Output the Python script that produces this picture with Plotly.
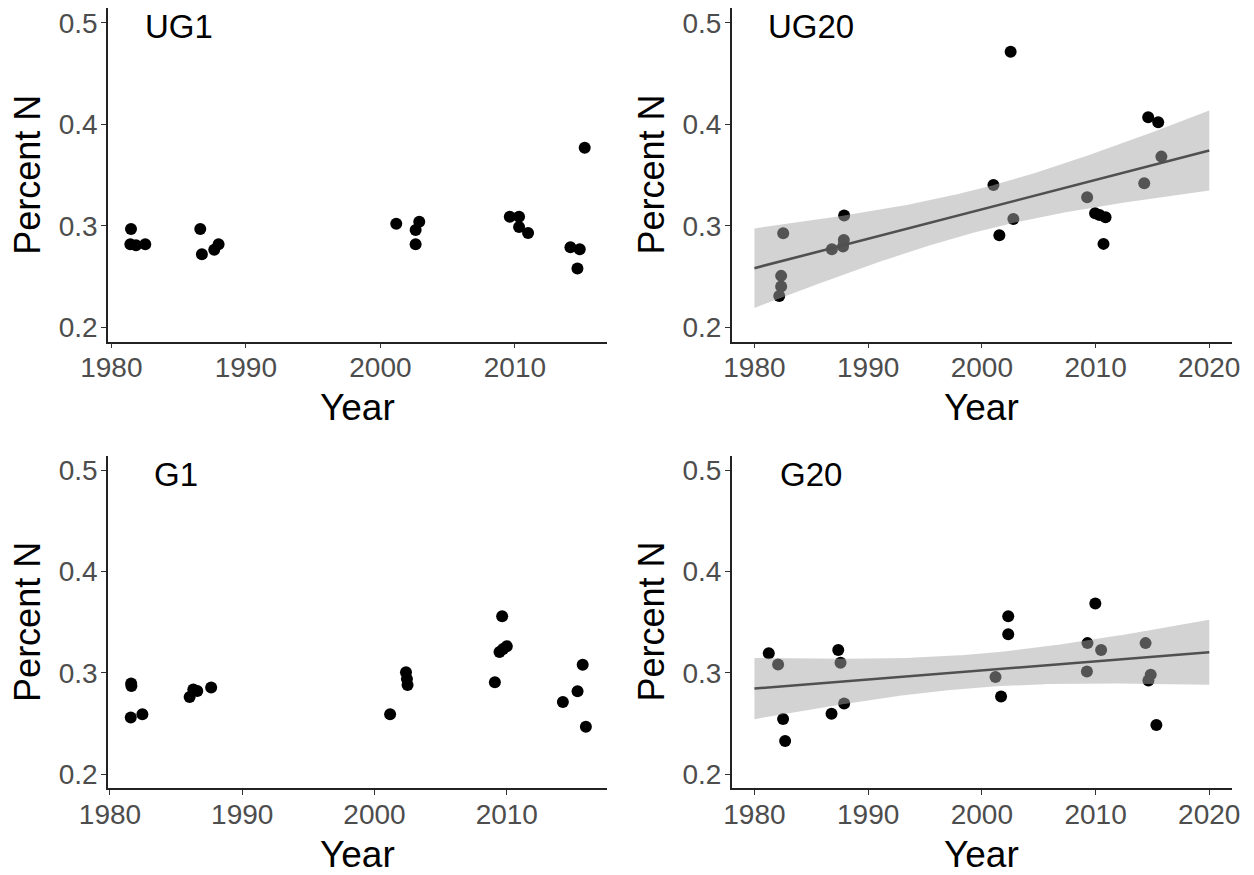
import numpy as np
import plotly.graph_objects as go

# ---------------- data ----------------
ug1_year = [1981.46, 1981.41, 1981.83, 1982.52, 1986.61, 1986.73, 1987.65, 1987.97,
            2001.18, 2002.62, 2002.89, 2002.62, 2009.62, 2010.31, 2010.31, 2010.98,
            2014.13, 2014.82, 2014.65, 2015.19]
ug1_n = [0.297, 0.282, 0.281, 0.282, 0.297, 0.272, 0.2765, 0.282,
         0.302, 0.296, 0.304, 0.282, 0.309, 0.309, 0.299, 0.293,
         0.279, 0.277, 0.258, 0.377]

ug20_year = [1982.53, 1982.35, 1982.35, 1982.18, 1986.81, 1987.79, 1987.86, 1987.89,
             2001.02, 2001.54, 2002.53, 2002.77, 2009.26, 2009.96, 2010.35, 2010.88,
             2010.70, 2014.28, 2014.63, 2015.51, 2015.79]
ug20_n = [0.2928, 0.2508, 0.2403, 0.2311, 0.2770, 0.2797, 0.2862, 0.3102,
          0.3403, 0.2908, 0.4715, 0.3069, 0.3282, 0.3125, 0.3108, 0.3085,
          0.2823, 0.3420, 0.4069, 0.4020, 0.3682]

g1_year = [1981.60, 1981.62, 1981.57, 1982.45, 1986.02, 1986.30, 1986.60, 1987.65,
           2001.18, 2002.38, 2002.45, 2002.50, 2009.10, 2009.45, 2009.72, 2010.00,
           2009.65, 2014.24, 2015.35, 2015.74, 2015.98]
g1_n = [0.2895, 0.2870, 0.2559, 0.2590, 0.2762, 0.2835, 0.2820, 0.2855,
        0.2590, 0.3005, 0.2940, 0.2880, 0.2906, 0.3205, 0.3235, 0.3263,
        0.3559, 0.2712, 0.2818, 0.3080, 0.2467]

g20_year = [1981.26, 1982.08, 1982.52, 1982.70, 1986.78, 1987.89, 1987.37, 1987.57,
            2001.20, 2001.69, 2002.32, 2002.32, 2009.29, 2009.24, 2009.98, 2010.49,
            2014.40, 2014.85, 2014.65, 2015.35]
g20_n = [0.3193, 0.3083, 0.2543, 0.2326, 0.2595, 0.2697, 0.3226, 0.3100,
         0.2959, 0.2767, 0.3559, 0.3381, 0.3293, 0.3014, 0.3683, 0.3225,
         0.3293, 0.2982, 0.2925, 0.2485]

panel_names = ["UG1", "UG20", "G1", "G20"]
y_ticks = [0.2, 0.3, 0.4, 0.5]
y_tick_text = ["0.2", "0.3", "0.4", "0.5"]
x_ticks_left = [1980, 1990, 2000, 2010]
x_ticks_right = [1980, 1990, 2000, 2010, 2020]

# ---------------- layout geometry ----------------
# the page body adds an 8px margin, so the figure is drawn 8px in from the window corner
OFF = 8
W, H = 1254 - OFF, 875 - OFF
def px_x(v):
    return min(1.0, max(0.0, (v - OFF) / W))
def px_y(v):
    return min(1.0, max(0.0, 1 - (v - OFF) / H))

left_dom = [px_x(108), px_x(607.3)]
right_dom = [px_x(731.7), px_x(1232)]
top_dom = [px_y(341.7), px_y(8)]
bot_dom = [px_y(788.3), px_y(455.5)]
y_range = [0.186, 0.5145]

FONT = "Liberation Sans, Arial, sans-serif"
TICK_COL = "#4d4d4d"


def t975(df):
    z = 1.959963985
    return (z + (z**3 + z) / (4 * df) + (5 * z**5 + 16 * z**3 + 3 * z) / (96 * df**2)
            + (3 * z**7 + 19 * z**5 + 17 * z**3 - 15 * z) / (384 * df**3))


def lm_band(xs, ys, grid):
    xs = np.asarray(xs, float)
    ys = np.asarray(ys, float)
    n = len(xs)
    b, a = np.polyfit(xs, ys, 1)
    resid = ys - (a + b * xs)
    s = np.sqrt(np.sum(resid**2) / (n - 2))
    xbar = xs.mean()
    sxx = np.sum((xs - xbar) ** 2)
    fit = a + b * grid
    se = s * np.sqrt(1.0 / n + (grid - xbar) ** 2 / sxx)
    t = t975(n - 2)
    return fit, fit - t * se, fit + t * se


fig = go.Figure()

# (point axes, overlay axes for the smoother drawn above the points)
panels = [
    ("x", "y", ug1_year, ug1_n, None),
    ("x2", "y2", ug20_year, ug20_n, ("x5", "y5")),
    ("x3", "y3", g1_year, g1_n, None),
    ("x4", "y4", g20_year, g20_n, ("x6", "y6")),
]

grid = np.linspace(1980, 2020, 161)
for xa, ya, xs, ys, ov in panels:
    fig.add_trace(go.Scatter(x=xs, y=ys, xaxis=xa, yaxis=ya, mode="markers",
                             marker=dict(size=12, color="black", line=dict(width=0)),
                             showlegend=False, hoverinfo="skip"))
for xa, ya, xs, ys, ov in panels:
    if ov:
        oxa, oya = ov
        fit, lo, hi = lm_band(xs, ys, grid)
        fig.add_trace(go.Scatter(x=np.concatenate([grid, grid[::-1]]),
                                 y=np.concatenate([hi, lo[::-1]]),
                                 xaxis=oxa, yaxis=oya, mode="lines", fill="toself",
                                 fillcolor="rgba(168,168,168,0.5)",
                                 line=dict(width=0, color="rgba(0,0,0,0)"),
                                 showlegend=False, hoverinfo="skip"))
        fig.add_trace(go.Scatter(x=grid, y=fit, xaxis=oxa, yaxis=oya, mode="lines",
                                 line=dict(color="#505050", width=2.6),
                                 showlegend=False, hoverinfo="skip"))

common_axis = dict(showline=True, linecolor="#222222", linewidth=1.5,
                   ticks="outside", ticklen=5, tickwidth=1.3, tickcolor="#333333",
                   showgrid=False, zeroline=False, mirror=False, automargin=False,
                   ticklabeloverflow="allow",
                   tickfont=dict(family=FONT, size=28, color=TICK_COL))

x_ranges = [[1979.75, 2016.87], [1978, 2022], [1979.85, 2017.6], [1978, 2022]]
x_doms = [left_dom, right_dom, left_dom, right_dom]
y_doms = [top_dom, top_dom, bot_dom, bot_dom]
x_tick_sets = [x_ticks_left, x_ticks_right, x_ticks_left, x_ticks_right]

layout = dict(width=W, height=H, margin=dict(l=0, r=0, t=0, b=0, autoexpand=False),
              plot_bgcolor="white", paper_bgcolor="white", showlegend=False)
annotations = []
for i in range(4):
    sfx = "" if i == 0 else str(i + 1)
    layout["xaxis" + sfx] = dict(common_axis, domain=x_doms[i], range=x_ranges[i],
                                  anchor="y" + sfx, tickvals=x_tick_sets[i],
                                  ticktext=[str(v) for v in x_tick_sets[i]],
                                  ticklabelstandoff=-5)
    layout["yaxis" + sfx] = dict(common_axis, domain=y_doms[i], range=y_range,
                                  anchor="x" + sfx, tickvals=y_ticks,
                                  ticktext=y_tick_text, ticklabelstandoff=-2)
    annotations.append(dict(x=1985, y=0.496, xref="x" + sfx, yref="y" + sfx,
                            text=panel_names[i], showarrow=False,
                            xanchor="center", yanchor="middle",
                            font=dict(family=FONT, size=33, color="black")))
    xd = x_doms[i]
    yd = y_doms[i]
    annotations.append(dict(x=(xd[0] + xd[1]) / 2, y=yd[0] - 66 / H, xref="paper", yref="paper",
                            text="Year", showarrow=False, xanchor="center", yanchor="middle",
                            font=dict(family=FONT, size=37, color="black")))
    annotations.append(dict(x=xd[0] - 80 / W, y=(yd[0] + yd[1]) / 2, xref="paper", yref="paper",
                            text="Percent N", showarrow=False, textangle=-90,
                            xanchor="center", yanchor="middle",
                            font=dict(family=FONT, size=36, color="black")))

# hidden overlay axes so the ribbon and line sit above the points, as in the reference
for ox, oy, base_x, base_y, rng in [("xaxis5", "yaxis5", "x2", "y2", x_ranges[1]),
                                    ("xaxis6", "yaxis6", "x4", "y4", x_ranges[3])]:
    layout[ox] = dict(overlaying=base_x, range=rng, visible=False, showgrid=False,
                      zeroline=False, anchor=oy.replace("axis", ""))
    layout[oy] = dict(overlaying=base_y, range=y_range, visible=False, showgrid=False,
                      zeroline=False, anchor=ox.replace("axis", ""))

layout["annotations"] = annotations
fig.update_layout(**layout)

fig.write_html("out.html")
